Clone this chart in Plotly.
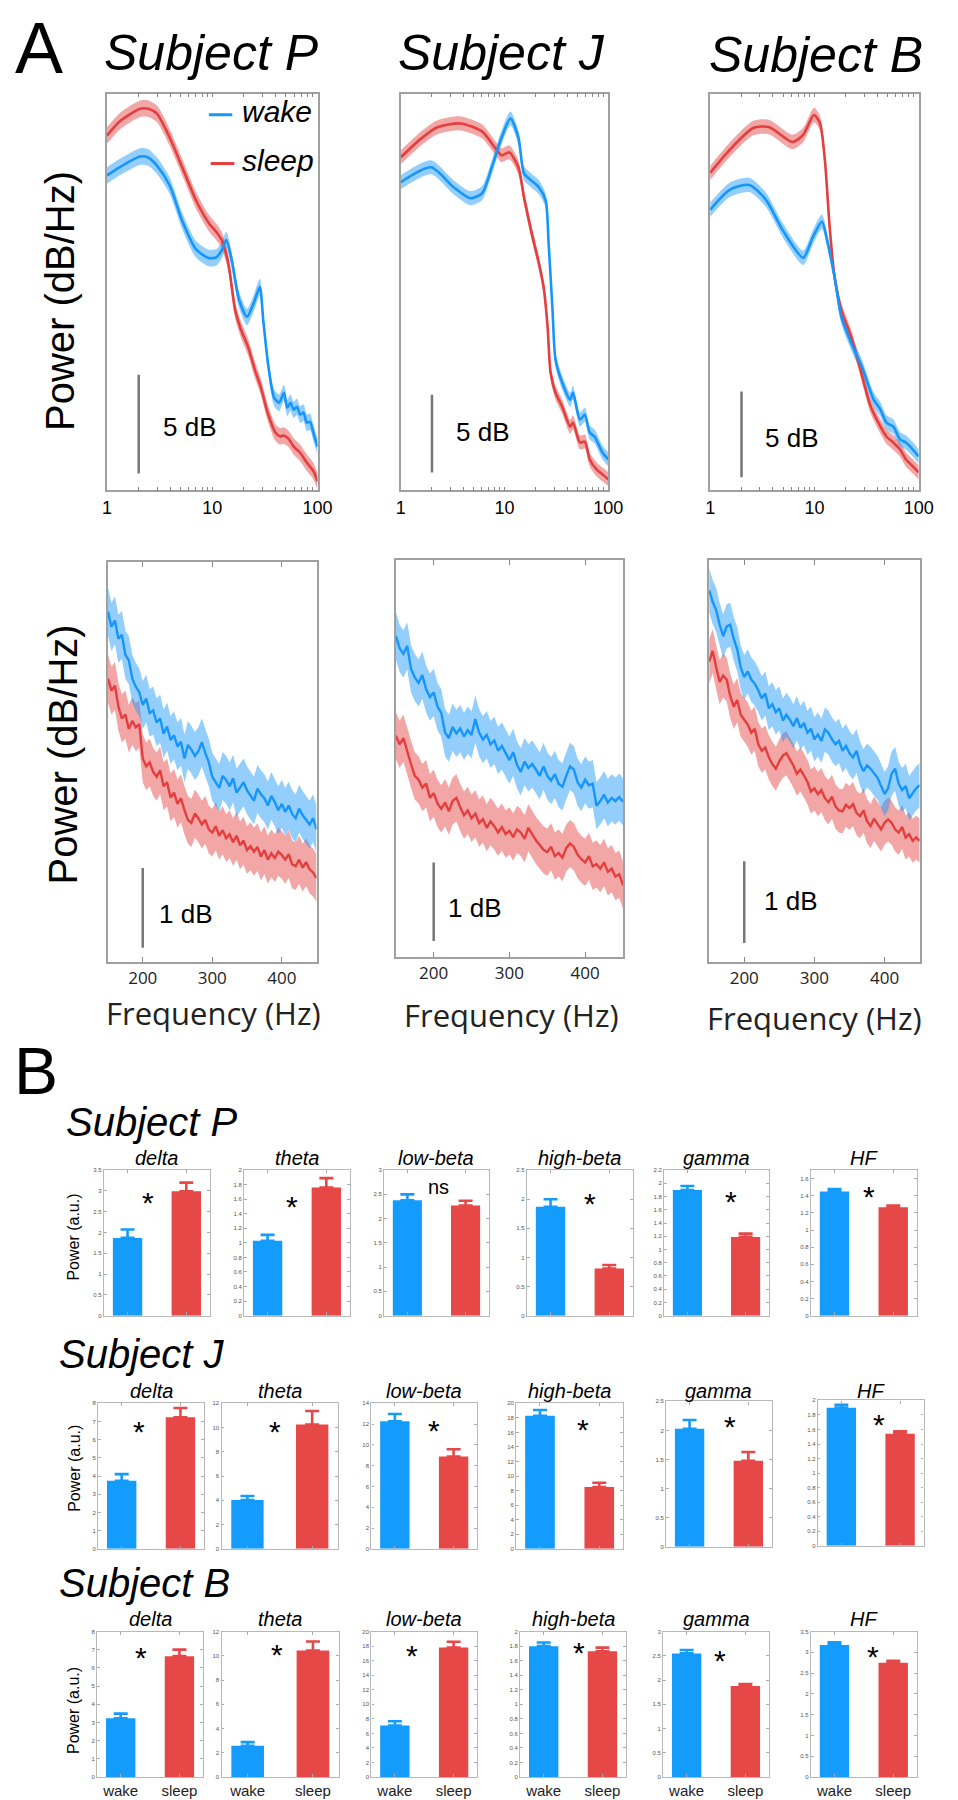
import plotly.graph_objects as go

# ------------------------------------------------------------------ DATA
# Panel A, top row: power spectra 1-100 Hz (dB, arbitrary offset)
P_wake_f = [1, 1.35, 2.07, 2.46, 2.98, 3.94, 5.2, 7.0, 9.3, 11, 12.3, 13.6, 15.3, 18.0, 21.4, 25, 28.3, 30.5, 34,
            38.7, 43.1, 48.0, 51.5, 55.3, 59.4, 63.8, 68.5, 73.6, 79.1, 84.9, 91.2, 100]
P_wake_db = [15.96, 16.41, 16.92, 16.87, 16.46, 15.45, 13.64, 12.22, 11.77, 11.82, 12.17, 12.68, 11.67, 9.65, 8.79,
             9.55, 10.30, 8.64, 6.36, 4.70, 4.44, 4.95, 4.19, 4.44, 4.09, 4.24, 3.84, 3.94, 3.43, 3.48, 2.93, 2.22]
P_sleep_f = [1, 1.35, 2.07, 2.46, 2.98, 3.94, 5.2, 7.0, 9.3, 11, 12.3, 14.2, 16.5, 18.8, 21.9, 25.4, 28.9, 33.6,
             39.8, 44.3, 47, 51.5, 55, 59.4, 68.0, 79.1, 91.8, 100]
P_sleep_db = [17.98, 18.74, 19.34, 19.34, 19.09, 17.88, 16.36, 14.70, 13.54, 13.08, 12.68, 11.52, 9.14, 8.13, 7.27,
              6.11, 5.25, 3.94, 2.93, 2.73, 2.78, 2.68, 2.50, 2.22, 1.92, 1.41, 0.96, 0.45]

J_wake_f = [1, 1.96, 3.23, 4.67, 6.07, 7.54, 9.37, 11.4, 13.6, 15.4, 18.0, 21.4, 24.9, 26.6, 29.0, 31.0, 36.0,
            42.9, 45.7, 53.3, 59.4, 66.2, 73.8, 82.2, 87.8, 100]
J_wake_db = [19.81, 20.77, 19.49, 18.78, 19.10, 20.77, 22.69, 23.91, 22.69, 20.38, 19.94, 19.49, 18.65, 15.90,
             11.60, 8.40, 6.92, 5.83, 6.28, 4.55, 4.87, 3.72, 3.46, 2.82, 2.44, 1.99]
J_sleep_f = [1, 1.58, 2.23, 3.76, 6.07, 8.05, 9.37, 11.1, 13.6, 15.4, 18.0, 21.4, 23.8, 26.0, 27.8, 31.0, 36.0,
             42.9, 45.7, 53.3, 59.4, 66.2, 77.1, 87.8, 100]
J_sleep_db = [21.41, 22.63, 23.33, 23.59, 23.08, 22.05, 21.54, 21.73, 20.77, 18.85, 16.73, 14.62, 13.08, 10.51,
              7.56, 6.28, 5.38, 4.10, 4.36, 3.08, 3.14, 1.99, 1.35, 1.03, 0.71]

B_wake_f = [1, 1.54, 2.37, 3.43, 4.95, 7.80, 9.7, 11.8, 13.4, 15.6, 18.1, 22.5, 28.5, 37.0, 43.0, 49.0, 57.0,
            66.3, 75.5, 87.9, 100]
B_wake_db = [16.34, 17.50, 17.79, 16.92, 15.17, 13.55, 14.77, 15.64, 14.42, 12.44, 10.12, 8.60, 7.21, 5.29,
             4.71, 3.95, 3.72, 2.97, 2.79, 2.38, 1.98]
B_sleep_f = [1, 1.54, 2.59, 3.66, 6.15, 7.80, 9.89, 11.3, 12.6, 14.0, 15.6, 18.1, 22.5, 25.6, 29.8, 34.7, 43.0,
             49.0, 57.0, 66.3, 75.5, 87.9, 100]
B_sleep_db = [18.49, 19.83, 21.10, 21.16, 20.29, 20.70, 21.86, 21.40, 19.24, 15.35, 12.44, 10.52, 8.95, 7.79,
              6.28, 4.88, 3.72, 3.14, 2.79, 2.38, 1.80, 1.40, 1.05]

TOP_SEM = [0.42, 0.45, 0.42]          # half-width of shaded band (dB)
TOP_RANGE = [20.1, 25.5, 23.1]        # visible dB span per subject
TOP_SCALE_START = [0.86, 1.15, 0.76]  # where the 5 dB scale bar starts
LOG_TICKS = [1, 2, 3, 4, 5, 6, 7, 8, 9, 10, 20, 30, 40, 50, 60, 70, 80, 90, 100]
LOG_LABELS = ['1', '', '', '', '', '', '', '', '', '10', '', '', '', '', '', '', '', '', '100']

# Panel A, bottom row: 150-450 Hz
HF_FREQ = list(range(150, 451, 5))
P_wake_hf = [4.39, 4.20, 4.28, 4.05, 4.10, 3.85, 3.78, 3.55, 3.45, 3.38,
             3.22, 3.30, 3.12, 3.15, 3.00, 3.05, 2.86, 2.95, 2.78, 2.84,
             2.70, 2.76, 2.55, 2.72, 2.66, 2.58, 2.64, 2.75, 2.62, 2.50,
             2.32, 2.25, 2.18, 2.33, 2.28, 2.20, 2.30, 2.12, 2.18, 2.25,
             2.15, 2.08, 2.02, 2.17, 2.10, 2.05, 1.96, 2.08, 2.00, 1.90,
             1.98, 1.88, 1.96, 1.85, 1.80, 1.92, 1.84, 1.78, 1.72, 1.80, 1.66]
P_sleep_hf = [3.55, 3.40, 3.46, 3.20, 3.05, 3.10, 2.92, 3.02, 2.94, 2.98,
              2.55, 2.45, 2.50, 2.38, 2.32, 2.40, 2.20, 2.25, 2.06, 2.12,
              1.98, 2.05, 1.90, 1.78, 1.74, 1.86, 1.80, 1.72, 1.78, 1.66,
              1.62, 1.70, 1.58, 1.65, 1.55, 1.60, 1.50, 1.58, 1.46, 1.52,
              1.40, 1.45, 1.38, 1.44, 1.32, 1.40, 1.28, 1.36, 1.30, 1.38,
              1.34, 1.28, 1.35, 1.22, 1.20, 1.28, 1.18, 1.25, 1.16, 1.12, 1.05]
J_wake_hf = [4.08, 3.92, 3.85, 3.95, 3.66, 3.55, 3.48, 3.58, 3.40, 3.30,
             3.36, 3.18, 3.10, 2.85, 2.78, 2.92, 2.84, 2.90, 2.80, 2.88,
             2.82, 3.02, 2.85, 2.76, 2.82, 2.70, 2.75, 2.62, 2.68, 2.58,
             2.50, 2.60, 2.44, 2.35, 2.48, 2.40, 2.45, 2.38, 2.30, 2.42,
             2.30, 2.24, 2.32, 2.20, 2.16, 2.30, 2.42, 2.38, 2.22, 2.15,
             2.25, 2.18, 2.20, 1.92, 1.98, 2.06, 1.96, 2.02, 1.98, 2.03, 1.97]
J_sleep_hf = [2.81, 2.70, 2.78, 2.60, 2.45, 2.30, 2.25, 2.15, 2.20, 2.02,
              2.08, 1.95, 1.88, 1.96, 1.85, 1.98, 2.02, 1.90, 1.80, 1.86,
              1.76, 1.82, 1.70, 1.75, 1.64, 1.72, 1.66, 1.58, 1.65, 1.56,
              1.60, 1.52, 1.62, 1.58, 1.50, 1.64, 1.56, 1.48, 1.42, 1.36,
              1.33, 1.40, 1.28, 1.32, 1.26, 1.38, 1.44, 1.40, 1.30, 1.24,
              1.20, 1.28, 1.15, 1.18, 1.12, 1.20, 1.08, 1.12, 1.02, 1.05, 0.91]
B_wake_hf = [4.54, 4.40, 4.30, 4.12, 3.98, 4.10, 4.12, 3.95, 3.82, 3.60,
             3.48, 3.55, 3.45, 3.40, 3.32, 3.22, 3.28, 3.10, 3.15, 3.05,
             3.10, 2.95, 3.02, 2.96, 2.88, 2.98, 2.86, 2.92, 2.80, 2.85,
             2.72, 2.78, 2.70, 2.84, 2.80, 2.72, 2.66, 2.70, 2.58, 2.64,
             2.55, 2.50, 2.58, 2.42, 2.33, 2.40, 2.36, 2.30, 2.25, 2.15,
             2.05, 2.12, 2.30, 2.36, 2.18, 2.10, 2.15, 2.00, 2.06, 2.12, 2.16]
B_sleep_hf = [3.67, 3.80, 3.60, 3.42, 3.50, 3.45, 3.25, 3.12, 3.20, 3.02,
              2.96, 2.90, 2.80, 2.85, 2.66, 2.58, 2.62, 2.50, 2.42, 2.36,
              2.45, 2.52, 2.55, 2.48, 2.40, 2.30, 2.35, 2.28, 2.20, 2.08,
              2.12, 2.05, 2.10, 2.00, 1.95, 2.02, 1.90, 1.85, 1.84, 1.92,
              1.88, 1.93, 1.82, 1.78, 1.85, 1.72, 1.66, 1.75, 1.68, 1.62,
              1.70, 1.74, 1.70, 1.62, 1.58, 1.65, 1.52, 1.56, 1.48, 1.52, 1.48]
BOT_SEM = [0.30, 0.30, 0.27]
BOT_RANGE = [5.01, 5.04, 4.91]
BOT_SCALE_START = [0.175, 0.2, 0.23]
HF_TICKS = [200, 300, 400]

# Panel B: band power bars
BANDS = ['delta', 'theta', 'low-beta', 'high-beta', 'gamma', 'HF']
STATES = ['wake', 'sleep']
P_wake = [1.87, 1.03, 2.38, 1.87, 1.90, 1.45]
P_wake_err = [0.20, 0.08, 0.12, 0.13, 0.06, 0.03]
P_sleep = [2.99, 1.76, 2.27, 0.81, 1.19, 1.265]
P_sleep_err = [0.21, 0.13, 0.10, 0.06, 0.05, 0.02]
P_ymax = [3.5, 2.0, 3.0, 2.5, 2.2, 1.7]
P_dtick = [0.5, 0.2, 0.5, 0.5, 0.2, 0.2]
P_sig = ['*', '*', 'ns', '*', '*', '*']

J_wake = [3.74, 4.03, 12.27, 18.3, 2.03, 1.90]
J_wake_err = [0.37, 0.33, 0.71, 0.79, 0.15, 0.04]
J_sleep = [7.23, 10.25, 8.88, 8.49, 1.48, 1.54]
J_sleep_err = [0.51, 1.12, 0.71, 0.60, 0.15, 0.035]
J_ymax = [8, 12, 14, 20, 2.5, 2.0]
J_dtick = [1, 2, 2, 2, 0.5, 0.2]
J_sig = ['*', '*', '*', '*', '*', '*']

B_wake = [3.23, 2.58, 7.08, 1.80, 2.55, 3.18]
B_wake_err = [0.26, 0.30, 0.59, 0.05, 0.07, 0.06]
B_sleep = [6.65, 10.44, 17.8, 1.73, 1.88, 2.75]
B_sleep_err = [0.36, 0.74, 0.80, 0.05, 0.04, 0.05]
B_ymax = [8, 12, 20, 2.0, 3.0, 3.5]
B_dtick = [1, 2, 2, 0.2, 0.5, 0.5]
B_sig = ['*', '*', '*', '*', '*', '*']

# ------------------------------------------------------------------ STYLE
W, H = 958, 1800
FONT = "Liberation Sans, Arial, Helvetica, sans-serif"
FONT2 = "Open Sans, Segoe UI, sans-serif"
BLUE = "rgb(22,150,250)"
RED = "rgb(228,62,62)"
BLUE_BAND = "rgba(30,152,250,0.48)"
RED_BAND = "rgba(228,70,70,0.48)"
BAR_BLUE = "#149cfd"
BAR_RED = "#e64747"
FRAME = "#a0a0a0"
BAR_FRAME = "#b8b8b8"
SCALE = "#777777"

fig = go.Figure()
layout = dict(width=W, height=H, margin=dict(l=0, r=0, t=0, b=0),
              paper_bgcolor='white', plot_bgcolor='white', showlegend=False,
              barmode='overlay', font=dict(family=FONT, color='black'))
ann = []
shapes = []
n_ax = [0]


def make_axes(x0, x1, y0, y1, xopts, yopts):
    n_ax[0] += 1
    n = n_ax[0]
    sx = '' if n == 1 else str(n)
    layout['xaxis' + sx] = dict(domain=[x0 / W, x1 / W], anchor='y' + sx, **xopts)
    layout['yaxis' + sx] = dict(domain=[1 - y1 / H, 1 - y0 / H], anchor='x' + sx, **yopts)
    return 'x' + sx, 'y' + sx


def text(s, x, y, size, italic=False, family=FONT, color='black', xanchor='center',
         angle=0, xref='paper', yref='paper'):
    if italic:
        s = '<i>' + s + '</i>'
    if xref == 'paper':
        x = x / W
    if yref == 'paper':
        y = 1 - y / H
    ann.append(dict(text=s, x=x, y=y, xref=xref, yref=yref, showarrow=False,
                    font=dict(family=family, size=size, color=color),
                    xanchor=xanchor, yanchor='middle', textangle=angle))


def add_band(xr, yr, f, vals, sem, band, shape):
    up = [v + sem for v in vals]
    lo = [v - sem for v in vals]
    fig.add_trace(go.Scatter(x=f, y=up, xaxis=xr, yaxis=yr, mode='lines',
                             line=dict(width=0, color=band, shape=shape, smoothing=0.7),
                             hoverinfo='skip'))
    fig.add_trace(go.Scatter(x=f, y=lo, xaxis=xr, yaxis=yr, mode='lines',
                             line=dict(width=0, color=band, shape=shape, smoothing=0.7),
                             fill='tonexty', fillcolor=band, hoverinfo='skip'))


def add_line(xr, yr, f, vals, color, shape, width=2.6):
    fig.add_trace(go.Scatter(x=f, y=vals, xaxis=xr, yaxis=yr, mode='lines',
                             line=dict(width=width, color=color, shape=shape, smoothing=0.7),
                             hoverinfo='skip'))


# ------------------------------------------------------------------ PANEL A top
top_geom = [(96, 311), (396, 608), (712, 925)]
top_data = [(P_wake_f, P_wake_db, P_sleep_f, P_sleep_db),
            (J_wake_f, J_wake_db, J_sleep_f, J_sleep_db),
            (B_wake_f, B_wake_db, B_sleep_f, B_sleep_db)]
top_text_pos = [(0.256, 3.23), (0.255, 3.78), (0.254, 3.08)]
top_axes = []
for i in range(3):
    x0, x1 = top_geom[i]
    xo = dict(type='log', range=[0, 2], tickvals=LOG_TICKS, ticktext=LOG_LABELS,
              ticks='inside', ticklen=4, tickwidth=1, tickcolor='#888',
              showline=True, linecolor=FRAME, linewidth=1.5, mirror='ticks',
              showgrid=False, zeroline=False,
              tickfont=dict(family=FONT, size=18, color='black'))
    yo = dict(range=[0, TOP_RANGE[i]], showticklabels=False, ticks='',
              showline=True, linecolor=FRAME, linewidth=1.5, mirror=True,
              showgrid=False, zeroline=False)
    xr, yr = make_axes(x0, x1, 83, 481, xo, yo)
    top_axes.append((xr, yr))
    wf, wd, sf, sd = top_data[i]
    add_band(xr, yr, sf, sd, TOP_SEM[i], RED_BAND, 'spline')
    add_band(xr, yr, wf, wd, TOP_SEM[i], BLUE_BAND, 'spline')
    add_line(xr, yr, sf, sd, RED, 'spline')
    add_line(xr, yr, wf, wd, BLUE, 'spline')
    # 5 dB scale bar at 2 Hz
    s0 = TOP_SCALE_START[i]
    fig.add_trace(go.Scatter(x=[2, 2], y=[s0, s0 + 5], xaxis=xr, yaxis=yr, mode='lines',
                             line=dict(color=SCALE, width=2.5), hoverinfo='skip'))
    tx, ty = top_text_pos[i]
    text('5 dB', tx, ty, 26, xanchor='left', xref=xr + ' domain', yref=yr)

# legend (inside Subject P top panel)
xr, yr = top_axes[0]
for (lx0, lx1, ly, col, lab) in [(0.484, 0.595, 0.947, BLUE, 'wake'),
                                  (0.493, 0.605, 0.824, RED, 'sleep')]:
    shapes.append(dict(type='line', xref=xr + ' domain', yref=yr + ' domain',
                       x0=lx0, x1=lx1, y0=ly, y1=ly, line=dict(color=col, width=3)))
    ann.append(dict(text='<i>' + lab + '</i>', x=0.633, y=ly + 0.008, xref=xr + ' domain',
                    yref=yr + ' domain', showarrow=False, xanchor='left', yanchor='middle',
                    font=dict(family=FONT, size=30, color='black')))

# ------------------------------------------------------------------ PANEL A bottom
bot_geom = [(97, 310, 553, 954), (391, 623, 551, 949), (711, 926, 551, 954)]
bot_data = [(P_wake_hf, P_sleep_hf), (J_wake_hf, J_sleep_hf), (B_wake_hf, B_sleep_hf)]
bot_text_pos = [(0.235, 0.60), (0.22, 0.62), (0.25, 0.74)]
for i in range(3):
    x0, x1, y0, y1 = bot_geom[i]
    xo = dict(range=[150, 450], tickvals=HF_TICKS, ticks='inside', ticklen=5,
              tickwidth=1, tickcolor='#888', showline=True, linecolor=FRAME,
              linewidth=1.5, mirror='ticks', showgrid=False, zeroline=False,
              tickfont=dict(family=FONT2, size=17, color='#222'))
    yo = dict(range=[0, BOT_RANGE[i]], showticklabels=False, ticks='',
              showline=True, linecolor=FRAME, linewidth=1.5, mirror=True,
              showgrid=False, zeroline=False)
    xr, yr = make_axes(x0, x1, y0, y1, xo, yo)
    wv, sv = bot_data[i]
    add_band(xr, yr, HF_FREQ, sv, BOT_SEM[i], RED_BAND, 'linear')
    add_band(xr, yr, HF_FREQ, wv, BOT_SEM[i], BLUE_BAND, 'linear')
    add_line(xr, yr, HF_FREQ, sv, RED, 'linear', 2.4)
    add_line(xr, yr, HF_FREQ, wv, BLUE, 'linear', 2.4)
    s0 = BOT_SCALE_START[i]
    fig.add_trace(go.Scatter(x=[200, 200], y=[s0, s0 + 1], xaxis=xr, yaxis=yr, mode='lines',
                             line=dict(color=SCALE, width=2.5), hoverinfo='skip'))
    tx, ty = bot_text_pos[i]
    text('1 dB', tx, ty, 26, xanchor='left', xref=xr + ' domain', yref=yr)

# ------------------------------------------------------------------ PANEL B bars
bar_rows = [
    dict(wake=P_wake, we=P_wake_err, sleep=P_sleep, se=P_sleep_err, ymax=P_ymax, dt=P_dtick, sig=P_sig,
         xs=[(93, 201), (236, 344), (379, 486), (525, 633), (665, 772), (815, 923)],
         ys=[(1163, 1309)] * 6,
         stars=[(138, 1188), (285, 1192), (435, 1180), (589, 1189), (733, 1187), (874, 1182)],
         title_y=1151, subj='Subject P', subj_pos=(52, 1115), ylab_y=1230),
    dict(wake=J_wake, we=J_wake_err, sleep=J_sleep, se=J_sleep_err, ymax=J_ymax, dt=J_dtick, sig=J_sig,
         xs=[(87, 195), (213, 332), (366, 474), (514, 623), (667, 775), (822, 930)],
         ys=[(1397, 1543)] * 3 + [(1397, 1543), (1395, 1541), (1394, 1540)],
         stars=[(129, 1418), (268, 1418), (430, 1417), (582, 1416), (732, 1413), (884, 1411)],
         title_y=1385, subj='Subject J', subj_pos=(45, 1347), ylab_y=1462),
    dict(wake=B_wake, we=B_wake_err, sleep=B_sleep, se=B_sleep_err, ymax=B_ymax, dt=B_dtick, sig=B_sig,
         xs=[(86, 194), (213, 333), (366, 474), (518, 626), (664, 772), (815, 923)],
         ys=[(1626, 1772)] * 6,
         stars=[(131, 1645), (270, 1642), (408, 1643), (578, 1640), (722, 1648), (878, 1644)],
         title_y=1613, subj='Subject B', subj_pos=(45, 1577), ylab_y=1705),
]

for r, row in enumerate(bar_rows):
    last = (r == len(bar_rows) - 1)
    for j in range(6):
        x0, x1 = row['xs'][j]
        y0, y1 = row['ys'][j]
        xo = dict(range=[-0.4, 1.4], tickvals=[0, 1],
                  ticktext=STATES if last else ['', ''],
                  ticks='inside', ticklen=3, tickwidth=1, tickcolor='#aaa',
                  showline=True, linecolor=BAR_FRAME, linewidth=1.3, mirror='ticks',
                  showgrid=False, zeroline=False,
                  tickfont=dict(family=FONT, size=15, color='#222'))
        yo = dict(range=[0, row['ymax'][j]], tick0=0, dtick=row['dt'][j],
                  ticks='inside', ticklen=2.5, tickwidth=1, tickcolor='#aaa',
                  showline=True, linecolor=BAR_FRAME, linewidth=1.3, mirror='ticks',
                  showgrid=False, zeroline=False,
                  tickfont=dict(family=FONT, size=6, color='#555'))
        xr, yr = make_axes(x0, x1, y0, y1, xo, yo)
        for k, (vals, errs, col) in enumerate([(row['wake'], row['we'], BAR_BLUE),
                                               (row['sleep'], row['se'], BAR_RED)]):
            fig.add_trace(go.Bar(x=[k], y=[vals[j]], width=0.5, xaxis=xr, yaxis=yr,
                                 marker=dict(color=col, line=dict(width=0)),
                                 error_y=dict(type='data', symmetric=False, array=[errs[j]],
                                              arrayminus=[0], color=col, thickness=2.6, width=7),
                                 hoverinfo='skip'))
        text(BANDS[j], (x0 + x1) / 2, row['title_y'], 20, italic=True)
        sx, sy = row['stars'][j]
        if row['sig'][j] == '*':
            text('*', sx, sy + 7, 30)
        else:
            text(row['sig'][j], sx, sy, 20)
    text(row['subj'], row['subj_pos'][0], row['subj_pos'][1], 40, italic=True, xanchor='left')
    text('Power (a.u.)', 62, row['ylab_y'], 16, angle=-90)

# ------------------------------------------------------------------ labels
text('A', 27, 37, 72)
text('B', 24, 1064, 66)
text('Subject P', 203, 42, 50, italic=True)
text('Subject J', 499, 42, 50, italic=True)
text('Subject B', 820, 44, 50, italic=True)
text('Power (dB/Hz)', 48, 291, 40, angle=-90)
text('Power (dB/Hz)', 51, 746, 40, angle=-90)
text('Frequency (Hz)', 205, 1005, 31, family=FONT2, color='#222')
text('Frequency (Hz)', 509, 1007, 31, family=FONT2, color='#222')
text('Frequency (Hz)', 819, 1010, 31, family=FONT2, color='#222')

layout['annotations'] = ann
layout['shapes'] = shapes
fig.update_layout(**layout)
fig.write_html("out.html")
